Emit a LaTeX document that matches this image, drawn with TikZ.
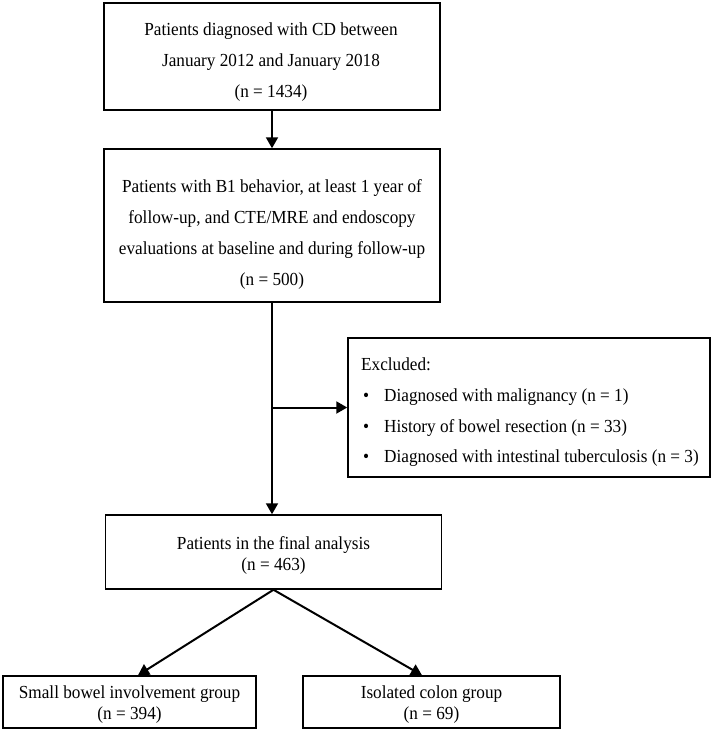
\documentclass[tikz,border=0pt]{standalone}
\usepackage{fontspec}
\setmainfont[FakeStretch=0.935]{Liberation Serif}
\usetikzlibrary{arrows.meta,calc}
\begin{document}
\begin{tikzpicture}[x=1pt,y=-1pt,
  box/.style={draw, line width=1.5pt, inner sep=0pt},
  bigtxt/.style={inner sep=0pt, align=center, font=\fontsize{18.4}{31}\selectfont},
  smalltxt/.style={inner sep=0pt, align=center, font=\fontsize{18.4}{21}\selectfont},
  lefttxt/.style={inner sep=0pt, align=left, font=\fontsize{18.4}{30.7}\selectfont},
  conn/.style={line width=2pt},
  arr/.style={line width=2pt, -{Triangle[length=11pt,width=12pt]}}]
\useasboundingbox[fill=white] (0,0) rectangle (715,732);

\node[box, minimum width=336pt, minimum height=107pt] (b1) at (272,56.5) {};
\node[box, minimum width=336pt, minimum height=153pt] (b2) at (272,225.5) {};
\node[box, minimum width=362pt, minimum height=139pt] (b3) at (529,407.5) {};
\node[box, minimum width=336pt, minimum height=74pt] (b4) at (273.5,552) {};
\node[box, minimum width=253pt, minimum height=52pt] (b5) at (129.5,702) {};
\node[box, minimum width=257pt, minimum height=52pt] (b6) at (431.5,702) {};

\node[bigtxt] (t1) at (271,62) {Patients diagnosed with CD between\\January 2012 and January 2018\\(n = 1434)};
\node[bigtxt] (t2) at (272,234) {Patients with B1 behavior, at least 1 year of\\follow-up, and CTE/MRE and endoscopy\\evaluations at baseline and during follow-up\\(n = 500)};
\node[lefttxt, anchor=west] (t3) at (361,412.5) {Excluded:\\
\hspace*{2pt}\makebox[21pt][l]{\textbullet}Diagnosed with malignancy (n = 1)\\
\hspace*{2pt}\makebox[21pt][l]{\textbullet}History of bowel resection (n = 33)\\
\hspace*{2pt}\makebox[21pt][l]{\textbullet}Diagnosed with intestinal tuberculosis (n = 3)};
\node[smalltxt] (t4) at (273.5,555) {Patients in the final analysis\\(n = 463)};
\node[smalltxt] (t5) at (129.5,705) {Small bowel involvement group\\(n = 394)};
\node[smalltxt] (t6) at (431.5,705) {Isolated colon group\\(n = 69)};

\coordinate (tip5) at ([xshift=8.5pt]b5.north);
\coordinate (tip6) at ([xshift=-9.5pt]b6.north);

\draw[arr] (b1.south) -- (b2.north);
\draw[arr] (b2.south) -- (b2.south |- b4.north);
\draw[arr] (b2.south |- b3.west) -- (b3.west);
\draw[arr] (b4.south) -- (tip5);
\draw[arr] (b4.south) -- (tip6);
\end{tikzpicture}
\end{document}
